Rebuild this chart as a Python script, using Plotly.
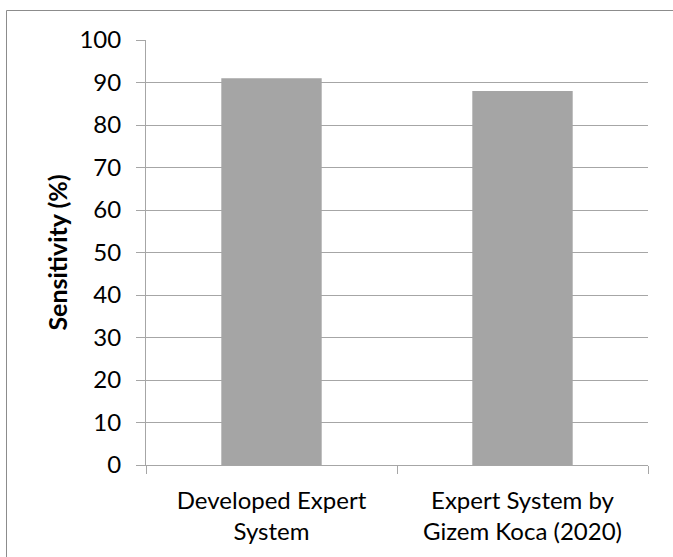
import plotly.graph_objects as go

categories = ["Developed Expert<br>System", "Expert System by<br>Gizem Koca (2020)"]
sensitivity = [91, 88]
y_ticks = [0, 10, 20, 30, 40, 50, 60, 70, 80, 90, 100]

W, H = 673, 557
L, R, T, B = 146, 25, 40, 92
pw, ph = W - L - R, H - T - B

def px_to_paper_x(px):
    return (px - L) / pw

def px_to_paper_y(py):
    return (H - B - py) / ph

FONT = "Lato"
GRID = "#A6A6A6"

fig = go.Figure(
    go.Bar(
        x=categories,
        y=sensitivity,
        marker=dict(color="#A5A5A5", line=dict(width=0)),
        width=0.4,
    )
)

fig.update_layout(
    width=W,
    height=H,
    margin=dict(l=L, r=R, t=T, b=B),
    paper_bgcolor="white",
    plot_bgcolor="white",
    showlegend=False,
    font=dict(family=FONT, size=24, color="#000000"),
    shapes=[
        dict(
            type="rect",
            xref="paper", yref="paper",
            x0=px_to_paper_x(6.5), x1=px_to_paper_x(700),
            y0=px_to_paper_y(600), y1=px_to_paper_y(10.5),
            line=dict(color="#8C8C8C", width=1),
            fillcolor="rgba(0,0,0,0)",
            layer="below",
        )
    ],
)

fig.update_xaxes(
    type="category",
    showgrid=False,
    showline=True,
    linecolor=GRID,
    linewidth=1,
    ticks="outside",
    tickson="boundaries",
    ticklen=8,
    tickcolor=GRID,
    tickfont=dict(family=FONT, size=24, color="#000000"),
    ticklabelstandoff=14,
    fixedrange=True,
)

fig.update_yaxes(
    range=[0, 100],
    tickvals=y_ticks,
    showgrid=True,
    gridcolor=GRID,
    gridwidth=1,
    showline=True,
    linecolor=GRID,
    linewidth=1,
    ticks="outside",
    ticklen=9,
    tickcolor=GRID,
    tickfont=dict(family=FONT, size=24, color="#000000"),
    ticklabelstandoff=10,
    zeroline=False,
    title=dict(text="<b>Sensitivity (%)</b>", font=dict(family=FONT, size=25, color="#000000"), standoff=4),
    fixedrange=True,
)

fig.write_html("out.html")
